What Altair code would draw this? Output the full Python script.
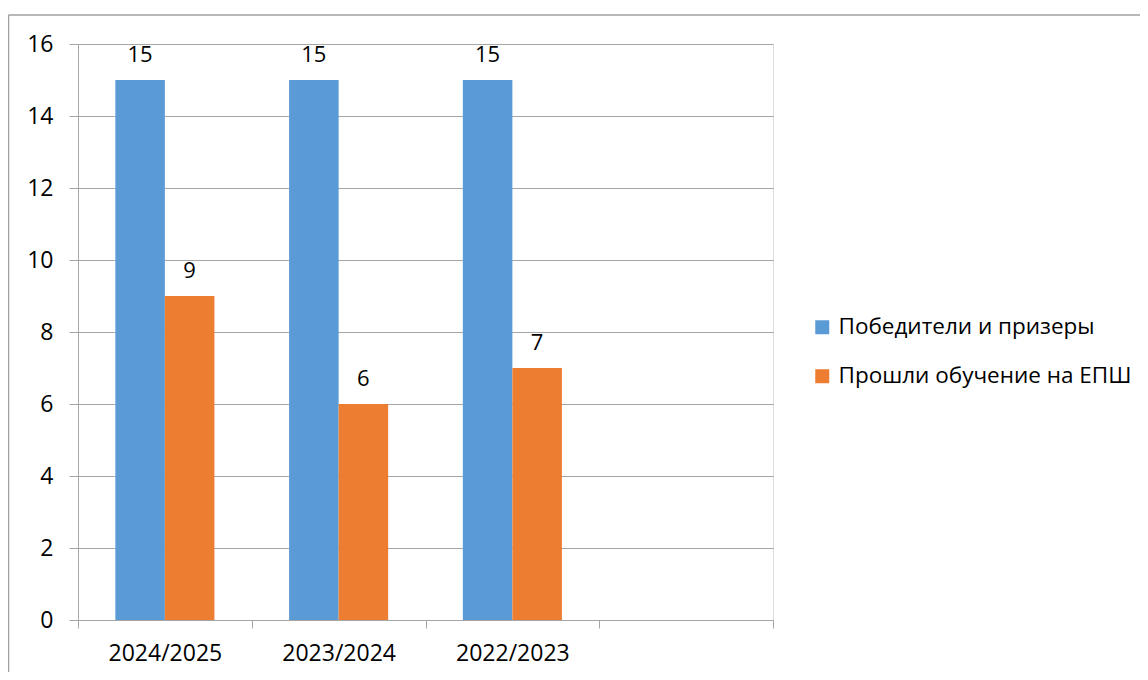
import altair as alt
import pandas as pd

categories = ["2024/2025", "2023/2024", "2022/2023"]
empty_slot = [" "]
series = ["Победители и призеры", "Прошли обучение на ЕПШ"]
winners = [15, 15, 15]
trained = [9, 6, 7]
y_ticks = [0, 2, 4, 6, 8, 10, 12, 14, 16]
colors = ["#5B9BD5", "#ED7D31"]

rows = []
for c, w, t in zip(categories, winners, trained):
    rows.append({"year": c, "series": series[0], "value": w})
    rows.append({"year": c, "series": series[1], "value": t})
df = pd.DataFrame(rows)

FONT = "Open Sans"
GRID = "#a6a6a6"

x_enc = alt.X(
    "year:N",
    sort=None,
    scale=alt.Scale(domain=categories + empty_slot, paddingInner=0, paddingOuter=0),
    axis=alt.Axis(
        title=None, labelAngle=0, tickBand="extent", grid=False,
        tickSize=8, labelPadding=14, labelFontSize=23, labelFont=FONT,
        labelColor="#000000", domainColor=GRID, tickColor=GRID,
    ),
)
xo_enc = alt.XOffset(
    "series:N",
    scale=alt.Scale(domain=series, paddingInner=0, paddingOuter=0.754),
)
y_enc = alt.Y(
    "value:Q",
    scale=alt.Scale(domain=[0, 16], nice=False),
    axis=alt.Axis(
        title=None, values=y_ticks, tickSize=9, labelPadding=16,
        labelFontSize=23, labelFont=FONT, labelColor="#000000",
        gridColor=GRID, domainColor=GRID, tickColor=GRID,
    ),
)

base = alt.Chart(df)

bars = base.mark_bar().encode(
    x=x_enc,
    xOffset=xo_enc,
    y=y_enc,
    color=alt.Color(
        "series:N",
        scale=alt.Scale(domain=series, range=colors),
        legend=alt.Legend(
            title=None, orient="none", legendX=733, legendY=272,
            symbolType="square", symbolSize=196, symbolStrokeWidth=0,
            labelFontSize=22.5, labelFont=FONT, labelColor="#000000",
            labelOffset=5, rowPadding=26, padding=0, labelLimit=400,
        ),
    ),
)

labels = base.mark_text(dy=-18, baseline="alphabetic", fontSize=22, font=FONT, color="#000000").encode(
    x=x_enc,
    xOffset=xo_enc,
    y=y_enc,
    text=alt.Text("value:Q"),
)

frame_df = pd.DataFrame({"k": [0]})
frame_left = alt.Chart(frame_df).mark_rule(color="#a0a0a0", strokeWidth=1.5).encode(
    x=alt.value(-69.5), y=alt.value(-29), y2=alt.value(640)
)
frame_top = alt.Chart(frame_df).mark_rule(color="#a0a0a0", strokeWidth=1.5).encode(
    x=alt.value(-69.5), x2=alt.value(1080), y=alt.value(-29)
)

chart = alt.layer(frame_left, frame_top, bars, labels).properties(
    width=695,
    height=576,
    autosize=alt.AutoSizeParams(type="none"),
    padding={"left": 70, "top": 36, "right": 367, "bottom": 52},
).configure_view(stroke=None).configure(background="#ffffff")

chart.save("out.html", embed_options={"renderer": "svg", "actions": False})
